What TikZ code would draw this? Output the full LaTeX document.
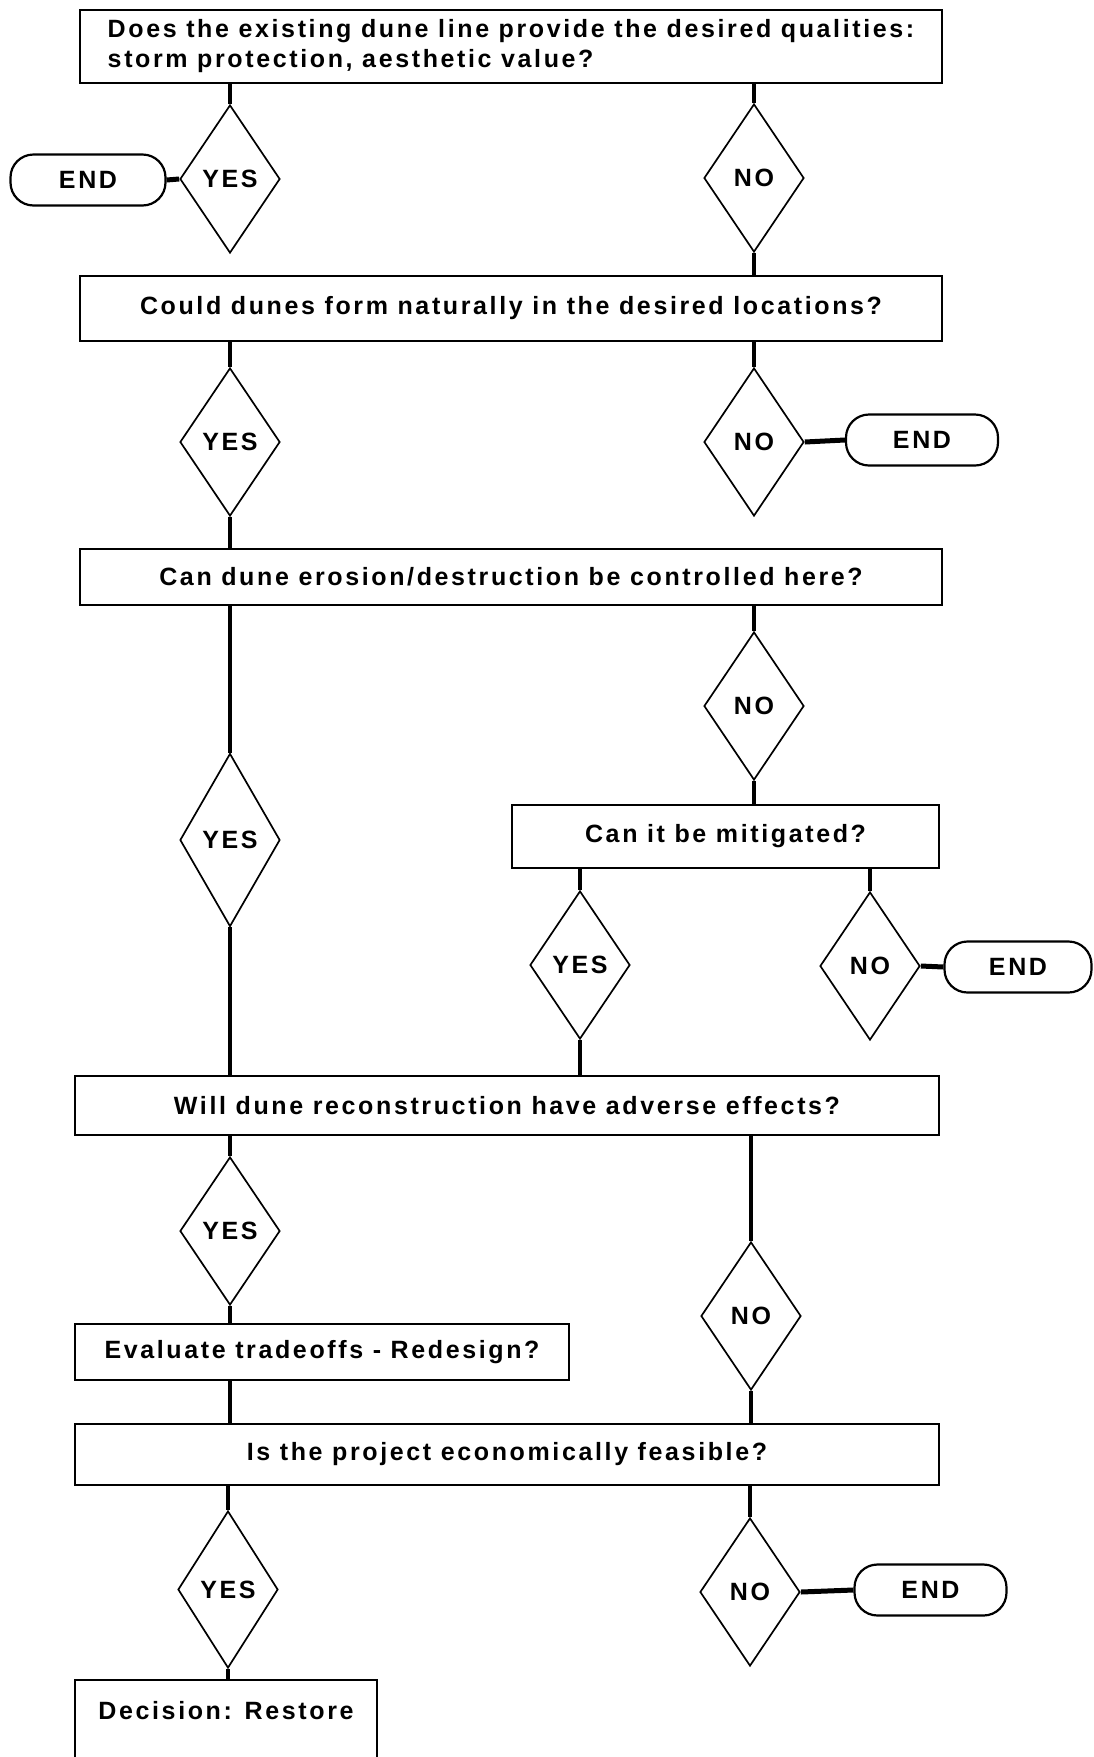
\documentclass[tikz,border=0pt]{standalone}
\usepackage{fontspec}
\newfontfamily\dfont{Liberation Sans}[LetterSpace=10.5]
\usetikzlibrary{shapes.geometric}
\tikzset{
  txt/.style={font=\dfont\bfseries\fontsize{25}{30}\selectfont},
  qbox/.style={draw, line width=2.4pt, rectangle, inner sep=0pt, txt},
  dia/.style={draw, line width=1.7pt, diamond, inner sep=0pt, minimum width=100pt, minimum height=148pt, txt},
  endnode/.style={draw, line width=2.2pt, rectangle, rounded corners=23pt, inner sep=0pt, minimum width=152pt, minimum height=51pt, txt},
  conn/.style={line width=3.4pt},
  econn/.style={line width=5pt}
}
\begin{document}
\begin{tikzpicture}[x=1pt,y=-1pt]
\clip (0,0) rectangle (1094,1757);
\fill[white] (0,0) rectangle (1094,1757);
% level 1
\node[qbox, minimum width=862pt, minimum height=73pt, align=left] (q1) at (511,46.5) {Does the existing dune line provide the desired qualities:\\storm protection, aesthetic value?};
\node[dia] (y1) at (230,179) {YES};
\node[dia] (n1) at (754,178) {NO};
\node[endnode, minimum width=155pt] (e1) at (88,180) {END};
% level 2
\node[qbox, minimum width=862pt, minimum height=65pt] (q2) at (511,308.5) {Could dunes form naturally in the desired locations?};
\node[dia] (y2) at (230,442) {YES};
\node[dia] (n2) at (754,442) {NO};
\node[endnode] (e2) at (922,440) {END};
% level 3
\node[qbox, minimum width=862pt, minimum height=56pt] (q3) at (511,577) {Can dune erosion/destruction be controlled here?};
\node[dia] (n3) at (754,706) {NO};
\node[dia, minimum height=173pt] (y3) at (230,840) {YES};
\node[qbox, minimum width=427pt, minimum height=63pt] (q4) at (725.5,836.5) {Can it be mitigated?};
\node[dia] (y4) at (580,965) {YES};
\node[dia] (n4) at (870,966) {NO};
\node[endnode, minimum width=147pt] (e4) at (1018,967) {END};
% level 5
\node[qbox, minimum width=864pt, minimum height=59pt] (q5) at (507,1105.5) {Will dune reconstruction have adverse effects?};
\node[dia] (y5) at (230,1231) {YES};
\node[dia] (n5) at (751,1316) {NO};
\node[qbox, minimum width=494pt, minimum height=56pt] (q6) at (322,1352) {Evaluate tradeoffs - Redesign?};
\node[qbox, minimum width=864pt, minimum height=61pt] (q7) at (507,1454.5) {Is the project economically feasible?};
\node[dia, minimum height=157pt] (y7) at (228,1589.5) {YES};
\node[dia] (n7) at (750,1592) {NO};
\node[endnode] (e7) at (930.5,1590) {END};
\node[qbox, anchor=north, minimum width=302pt, text height=18pt, text depth=120pt, inner ysep=21pt] (q8) at (226,1679) {Decision: Restore};
% connectors
\draw[conn] (q1.south -| y1) -- (y1.north);
\draw[conn] (q1.south -| n1) -- (n1.north);
\draw[econn] (e1.east) -- (y1.west);
\draw[conn] (n1.south) -- (n1.south |- q2.north);
\draw[conn] (q2.south -| y2) -- (y2.north);
\draw[conn] (y2.south) -- (y2.south |- q3.north);
\draw[conn] (q2.south -| n2) -- (n2.north);
\draw[econn] (n2.east) -- (e2.west);
\draw[conn] (q3.south -| y3) -- (y3.north);
\draw[conn] (y3.south) -- (y3.south |- q5.north);
\draw[conn] (q3.south -| n3) -- (n3.north);
\draw[conn] (n3.south) -- (n3.south |- q4.north);
\draw[conn] (q4.south -| y4) -- (y4.north);
\draw[conn] (y4.south) -- (y4.south |- q5.north);
\draw[conn] (q4.south -| n4) -- (n4.north);
\draw[econn] (n4.east) -- (e4.west);
\draw[conn] (q5.south -| y5) -- (y5.north);
\draw[conn] (y5.south) -- (y5.south |- q6.north);
\draw[conn] (q5.south -| n5) -- (n5.north);
\draw[conn] (n5.south) -- (n5.south |- q7.north);
\draw[conn] (q6.south -| y5) -- (q7.north -| y5);
\draw[conn] (q7.south -| y7) -- (y7.north);
\draw[conn] (y7.south) -- (y7.south |- q8.north);
\draw[conn] (q7.south -| n7) -- (n7.north);
\draw[econn] (n7.east) -- (e7.west);
\end{tikzpicture}
\end{document}
